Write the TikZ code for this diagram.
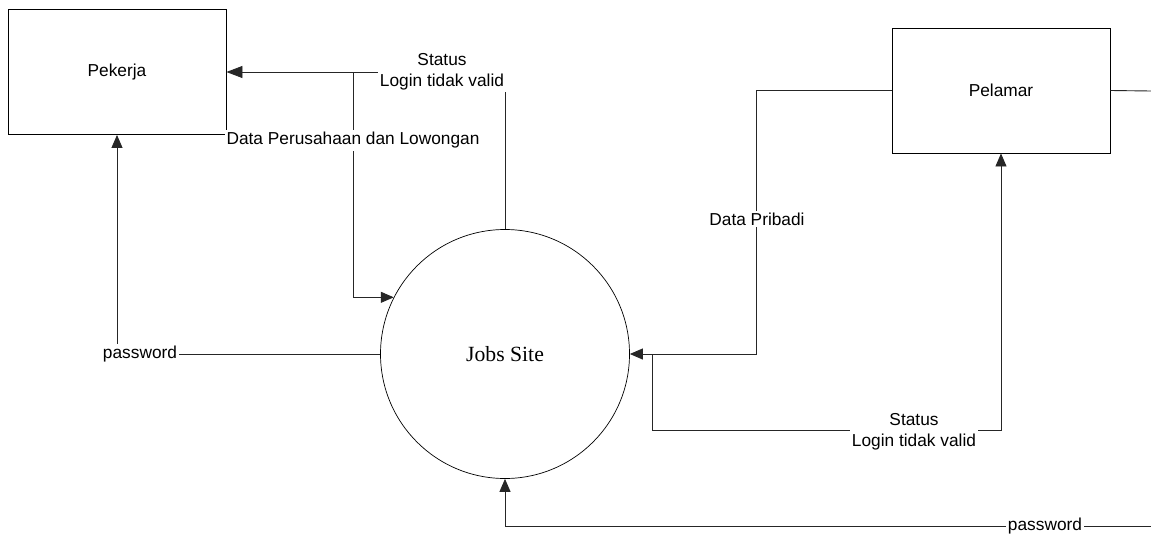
\documentclass[tikz,border=0pt]{standalone}
\usepackage{fontspec}
\usetikzlibrary{arrows.meta,calc}
\newfontfamily\lsans{Liberation Sans}
\newfontfamily\lserif{Liberation Serif}
\tikzset{
  entity/.style={draw=black,line width=0.9pt,rectangle,minimum width=218pt,minimum height=125pt,inner sep=0pt,font=\lsans\fontsize{17.3}{20.8}\selectfont},
  process/.style={draw=black,line width=0.7pt,circle,minimum size=249pt,inner sep=0pt,font=\lserif\fontsize{21.7}{26}\selectfont},
  flow/.style={draw=black!85,line width=0.9pt},
  arr/.style={-{Triangle[length=13pt,width=11pt]}},
  flowlabel/.style={fill=white,inner sep=2pt,align=center,font=\lsans\fontsize{17.3}{20.8}\selectfont}
}
\begin{document}
\begin{tikzpicture}[x=1pt,y=-1pt]
\useasboundingbox (0,0) rectangle (1151,533);
\fill[white] (0,0) rectangle (1151,533);

\node[entity] (pek) at (117,72) {Pekerja};
\node[entity] (pel) at (1001,90.5) {Pelamar};
\node[process] (js) at (505,354) {Jobs Site};

\coordinate (j1) at (353,72);
\coordinate (s1) at (652,354);
\coordinate (e1) at (1151,91);
\coordinate (e2) at (1151,526);

% Jobs Site -> Pekerja (Status / Login tidak valid)
\draw[flow,-{Triangle[length=16pt,width=12pt]}] (js.north) |- (pek.east);
% Data Perusahaan dan Lowongan -> Jobs Site
\draw[flow,arr] (j1) |- (js.153.2);
% password (left) -> Pekerja
\draw[flow,arr] (js.west) -| (pek.south);
% Pelamar -> Jobs Site (Data Pribadi)
\draw[flow,arr] (pel.west) -- ++(-135,0) |- (js.east);
% Jobs Site -> Pelamar (Status / Login tidak valid)
\draw[flow,arr] (s1) -- ++(0,76) -| (pel.south);
% password (bottom) -> Jobs Site
\draw[flow,arr] (e2) -| (js.south);
% Pelamar -> right edge
\draw[flow] (pel.east) -- (e1);

\node[flowlabel] (l1) at (442,72) {Status\\Login tidak valid};
\node[flowlabel] (l2) at (353,140.5) {Data Perusahaan dan Lowongan};
\node[flowlabel] (l3) at (140,354) {password};
\node[flowlabel] (l4) at (757,219) {Data Pribadi};
\node[flowlabel] (l5) at (914,432) {Status\\Login tidak valid};
\node[flowlabel] (l6) at (1045,526) {password};
\end{tikzpicture}
\end{document}
